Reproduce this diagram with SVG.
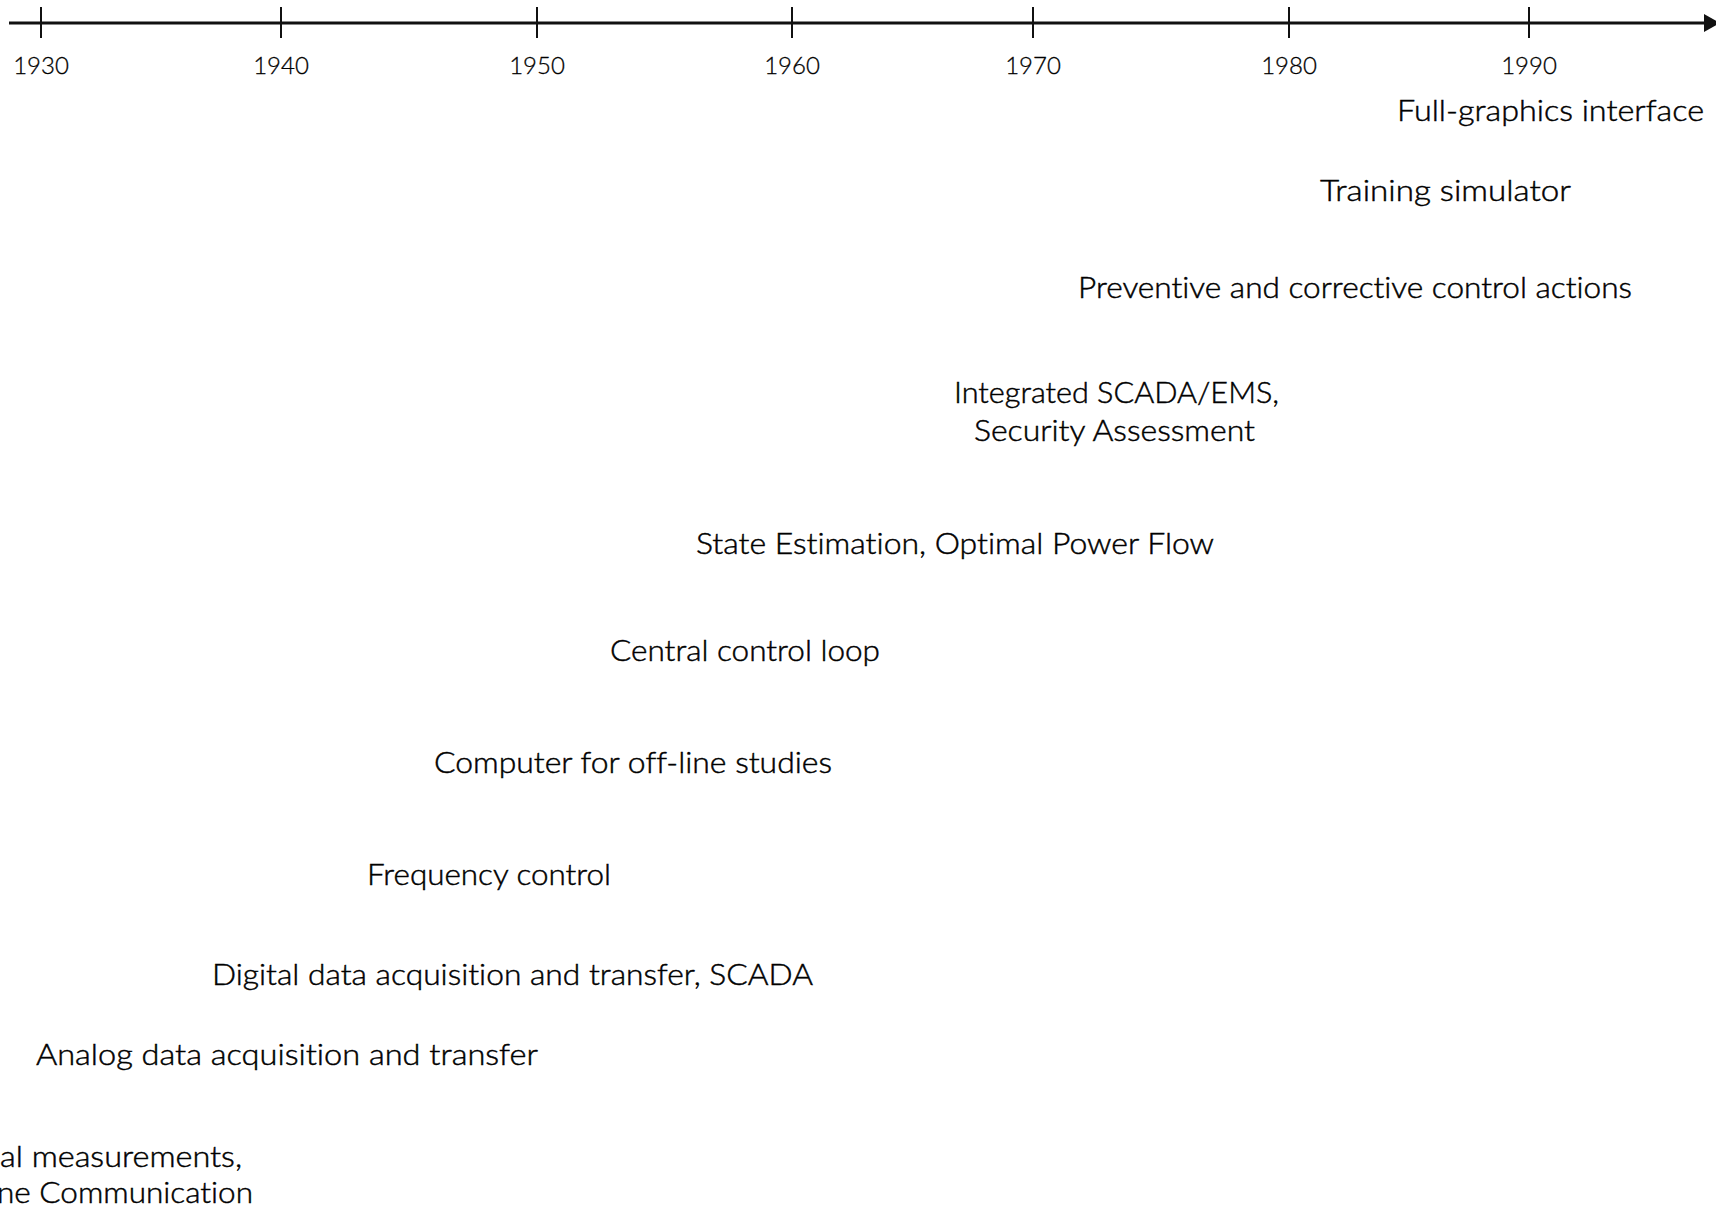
<svg xmlns="http://www.w3.org/2000/svg" width="1716" height="1208" viewBox="0 0 1716 1208">
  <style>
    .axis { stroke: #111; stroke-width: 3; fill: none; }
    .tick { stroke: #111; stroke-width: 2; }
    text { font-family: "Lato", "Liberation Sans", sans-serif; font-weight: 300; fill: #000; stroke: #000; stroke-width: 0.45; font-variant-ligatures: none; }
    .year { font-size: 24px; text-anchor: middle; stroke-width: 0.3; }
    .lbl { font-size: 29px; }
  </style>
  <defs>
    <marker id="arrow" viewBox="0 0 16 18" refX="16" refY="9" markerWidth="5.333" markerHeight="6" markerUnits="strokeWidth" orient="auto">
      <path d="M0,0 L16,9 L0,18 z" fill="#111"/>
    </marker>
  </defs>
  <rect width="1716" height="1208" fill="#fff"/>

  <!-- time axis -->
  <g id="connectors">
    <line class="axis" x1="9" y1="23" x2="1720" y2="23" marker-end="url(#arrow)"/>
  </g>

  <g id="ticks">
    <line class="tick" x1="41" y1="7" x2="41" y2="38"/>
    <line class="tick" x1="281" y1="7" x2="281" y2="38"/>
    <line class="tick" x1="537" y1="7" x2="537" y2="38"/>
    <line class="tick" x1="792" y1="7" x2="792" y2="38"/>
    <line class="tick" x1="1033" y1="7" x2="1033" y2="38"/>
    <line class="tick" x1="1289" y1="7" x2="1289" y2="38"/>
    <line class="tick" x1="1529" y1="7" x2="1529" y2="38"/>
  </g>

  <g id="years">
    <text class="year" x="41" y="74">1930</text>
    <text class="year" x="281" y="74">1940</text>
    <text class="year" x="537" y="74">1950</text>
    <text class="year" x="792" y="74">1960</text>
    <text class="year" x="1033" y="74">1970</text>
    <text class="year" x="1289" y="74">1980</text>
    <text class="year" x="1529" y="74">1990</text>
  </g>

  <g id="full-graphics">
    <text class="lbl" x="1397" y="121" textLength="307" lengthAdjust="spacingAndGlyphs">Full-graphics interface</text>
  </g>
  <g id="training-simulator">
    <text class="lbl" x="1320" y="201" textLength="251" lengthAdjust="spacingAndGlyphs">Training simulator</text>
  </g>
  <g id="preventive-corrective">
    <text class="lbl" x="1078" y="298" textLength="554" lengthAdjust="spacingAndGlyphs">Preventive and corrective control actions</text>
  </g>
  <g id="integrated-scada-ems">
    <text class="lbl" x="954" y="403" textLength="325" lengthAdjust="spacingAndGlyphs">Integrated SCADA/EMS,</text>
    <text class="lbl" x="974" y="441" textLength="281" lengthAdjust="spacingAndGlyphs">Security Assessment</text>
  </g>
  <g id="state-estimation">
    <text class="lbl" x="696" y="554" textLength="518" lengthAdjust="spacingAndGlyphs">State Estimation, Optimal Power Flow</text>
  </g>
  <g id="central-control">
    <text class="lbl" x="610" y="661" textLength="270" lengthAdjust="spacingAndGlyphs">Central control loop</text>
  </g>
  <g id="offline-computer">
    <text class="lbl" x="434" y="773" textLength="398" lengthAdjust="spacingAndGlyphs">Computer for off-line studies</text>
  </g>
  <g id="frequency-control">
    <text class="lbl" x="367" y="885" textLength="244" lengthAdjust="spacingAndGlyphs">Frequency control</text>
  </g>
  <g id="digital-acquisition">
    <text class="lbl" x="212" y="985" textLength="601" lengthAdjust="spacingAndGlyphs">Digital data acquisition and transfer, SCADA</text>
  </g>
  <g id="analog-acquisition">
    <text class="lbl" x="36" y="1065" textLength="502" lengthAdjust="spacingAndGlyphs">Analog data acquisition and transfer</text>
  </g>
  <g id="measurements-communication">
    <text class="lbl" x="0" y="1167" textLength="242" lengthAdjust="spacingAndGlyphs">al measurements,</text>
    <text class="lbl" x="-3" y="1203" textLength="256" lengthAdjust="spacingAndGlyphs">ne Communication</text>
  </g>
</svg>
